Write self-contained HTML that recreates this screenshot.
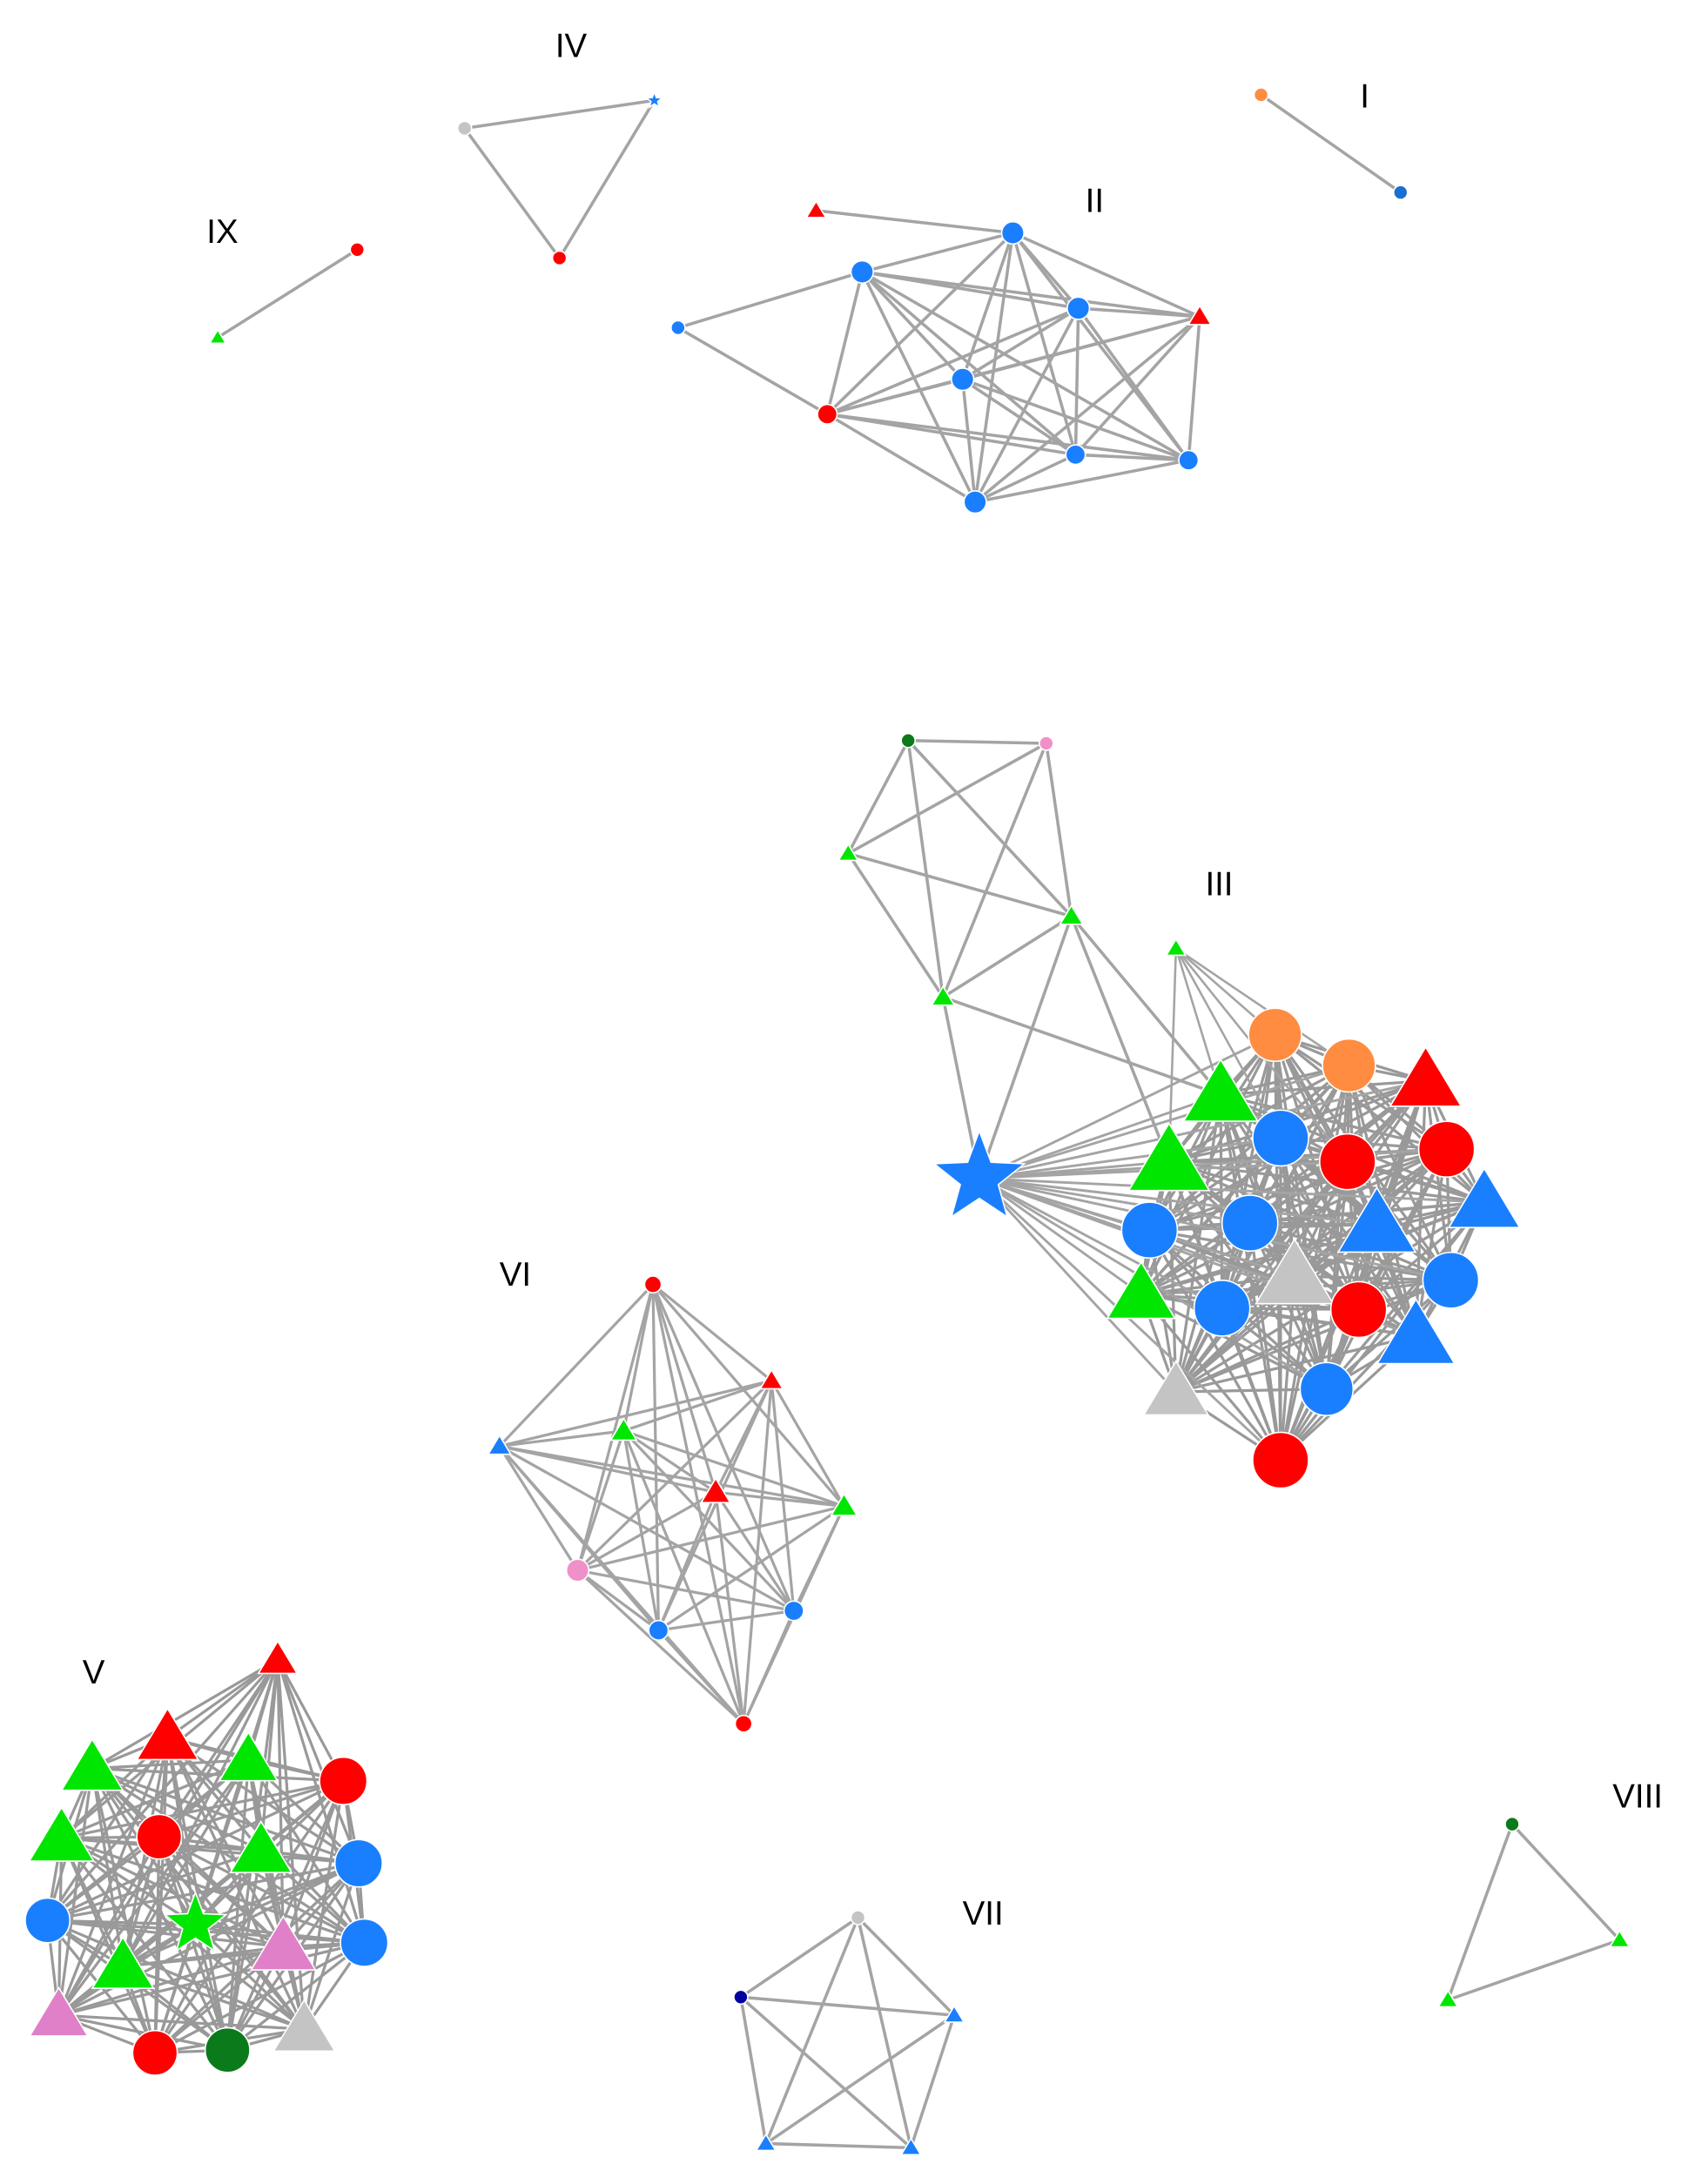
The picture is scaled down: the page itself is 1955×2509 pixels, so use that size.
<!DOCTYPE html>
<html><head><meta charset="utf-8"><style>
html,body{margin:0;padding:0;background:#fff;}
svg{display:block;}
text{font-family:"Liberation Sans",sans-serif;font-size:24px;fill:#000;}
</style></head><body>
<svg id="s" xmlns="http://www.w3.org/2000/svg" width="1955" height="2509" viewBox="0 0 1220 1566">
<g id="e" stroke="#a4a4a4" stroke-width="2.2" fill="none"></g>
<g id="n" stroke="#fff" stroke-width="1"></g>
<text x="975" y="77">I</text>
<text x="778" y="152">II</text>
<text x="864" y="642">III</text>
<text x="398" y="41">IV</text>
<text x="59" y="1207">V</text>
<text x="358" y="922">VI</text>
<text x="690" y="1380">VII</text>
<text x="1156" y="1296">VIII</text>
<text x="148" y="174">IX</text>
</svg>
<script>
var B='#1a7fff',R='#ff0000',G='#00e600',O='#ff8c40',Y='#c4c4c4',P='#f090c8',P2='#e080c8',D='#0a7a1a',DB='#0000a0';
var eg=document.getElementById('e'),ng=document.getElementById('n');
var NS='http://www.w3.org/2000/svg';
function line(a,b,w,col){var l=document.createElementNS(NS,'line');l.setAttribute('x1',a[0]);l.setAttribute('y1',a[1]);l.setAttribute('x2',b[0]);l.setAttribute('y2',b[1]);if(w)l.setAttribute('stroke-width',w);if(col)l.setAttribute('stroke',col);eg.appendChild(l);}
function node(n){var x=n[0],y=n[1],s=n[2],c=n[3],r=n[4],el;
 if(s=='c'){el=document.createElementNS(NS,'circle');el.setAttribute('cx',x);el.setAttribute('cy',y);el.setAttribute('r',r);}
 else if(s=='t'){el=document.createElementNS(NS,'polygon');var h=r*1.1;el.setAttribute('points',(x)+','+(y-h)+' '+(x+h*1.05)+','+(y+h*0.75)+' '+(x-h*1.05)+','+(y+h*0.75));}
 else {el=document.createElementNS(NS,'polygon');var p=[];for(var i=0;i<10;i++){var a=-Math.PI/2+i*Math.PI/5,rr=i%2?r*0.42:r;p.push((x+rr*Math.cos(a)).toFixed(1)+','+(y+rr*Math.sin(a)).toFixed(1));}el.setAttribute('points',p.join(' '));}
 el.setAttribute('fill',c);ng.appendChild(el);}
function all(arr,w,col){for(var i=0;i<arr.length;i++)for(var j=i+1;j<arr.length;j++)line(arr[i],arr[j],w,col);}
var nodes=[];
var I=[[904,68,'c',O,5],[1004,138,'c','#1a6fd0',5]];line(I[0],I[1]);nodes=nodes.concat(I);
var IV=[[333,92,'c',Y,5],[469,72,'s',B,6],[401,185,'c',R,5]];all(IV);nodes=nodes.concat(IV);
var IX=[[256,179,'c',R,5],[156,242,'t',G,5]];line(IX[0],IX[1]);nodes=nodes.concat(IX);
var IIa=[585,151,'t',R,6],IIb=[486,235,'c',B,5];
var II=[[726,167,'c',B,8],[618,195,'c',B,8],[773,221,'c',B,8],[860,227,'t',R,7],[690,272,'c',B,8],[593,297,'c',R,7],[771,326,'c',B,7],[852,330,'c',B,7],[699,360,'c',B,8]];
all(II);line(IIa,II[0]);line(IIb,II[1]);line(IIb,II[5]);nodes=nodes.concat(II,[IIa,IIb]);
var t1=[651,531,'c',D,5],t2=[750,533,'c',P,5],t3=[608,612,'t',G,6],t4=[768,657,'t',G,7],t5=[676,715,'t',G,7],st=[702,845,'s',B,34],t6=[843,680,'t',G,6];
[[t1,t2],[t1,t3],[t1,t4],[t1,t5],[t2,t3],[t2,t4],[t2,t5],[t3,t4],[t3,t5],[t4,t5],[t5,st],[t4,st]].forEach(function(p){line(p[0],p[1]);});
var III=[[914,742,'c',O,19],[967,764,'c',O,19],[1022,775,'t',R,22],[875,785,'t',G,23],[918,816,'c',B,20],[966,833,'c',R,20],[1037,824,'c',R,20],[838,833,'t',G,25],[824,882,'c',B,20],[896,877,'c',B,20],[987,878,'t',B,24],[1064,862,'t',B,22],[928,915,'t',Y,24],[1040,918,'c',B,20],[818,928,'t',G,21],[876,938,'c',B,20],[974,939,'c',R,20],[1015,958,'t',B,24],[951,996,'c',B,19],[843,998,'t',Y,20],[918,1047,'c',R,20]];
all(III,2,'#999');III.forEach(function(n){line(st,n,1.8);});
[0,1,3,4,5,7].forEach(function(i){line(t6,III[i],1.6);});line(t4,III[3]);line(t4,III[7]);line(t5,III[3]);
nodes=nodes.concat(III,[t1,t2,t3,t4,t5,t6,st]);
var VI=[[468,921,'c',R,6],[553,990,'t',R,7],[358,1037,'t',B,7],[447,1026,'t',G,8],[513,1070,'t',R,9],[605,1080,'t',G,8],[414,1126,'c',P,8],[472,1169,'c',B,7],[569,1155,'c',B,7],[533,1236,'c',R,6]];
all(VI,2);nodes=nodes.concat(VI);
var V=[[199,1190,'t',R,12],[120,1246,'t',R,19],[66,1268,'t',G,19],[178,1262,'t',G,18],[246,1277,'c',R,17],[44,1318,'t',G,20],[114,1317,'c',R,16],[187,1327,'t',G,19],[257,1336,'c',B,17],[34,1377,'c',B,16],[140,1380,'s',G,23],[203,1396,'t',P2,20],[261,1393,'c',B,17],[88,1410,'t',G,19],[42,1445,'t',P2,18],[111,1472,'c',R,16],[163,1470,'c',D,16],[218,1455,'t',Y,19]];
all(V,2,'#999');nodes=nodes.concat(V);
var VII=[[615,1375,'c',Y,5],[531,1432,'c',DB,5],[684,1445,'t',B,6],[549,1537,'t',B,6],[653,1540,'t',B,6]];all(VII);nodes=nodes.concat(VII);
var VIII=[[1084,1308,'c',D,5],[1161,1391,'t',G,6],[1038,1434,'t',G,6]];all(VIII);nodes=nodes.concat(VIII);
nodes.forEach(node);
</script>
</body></html>
